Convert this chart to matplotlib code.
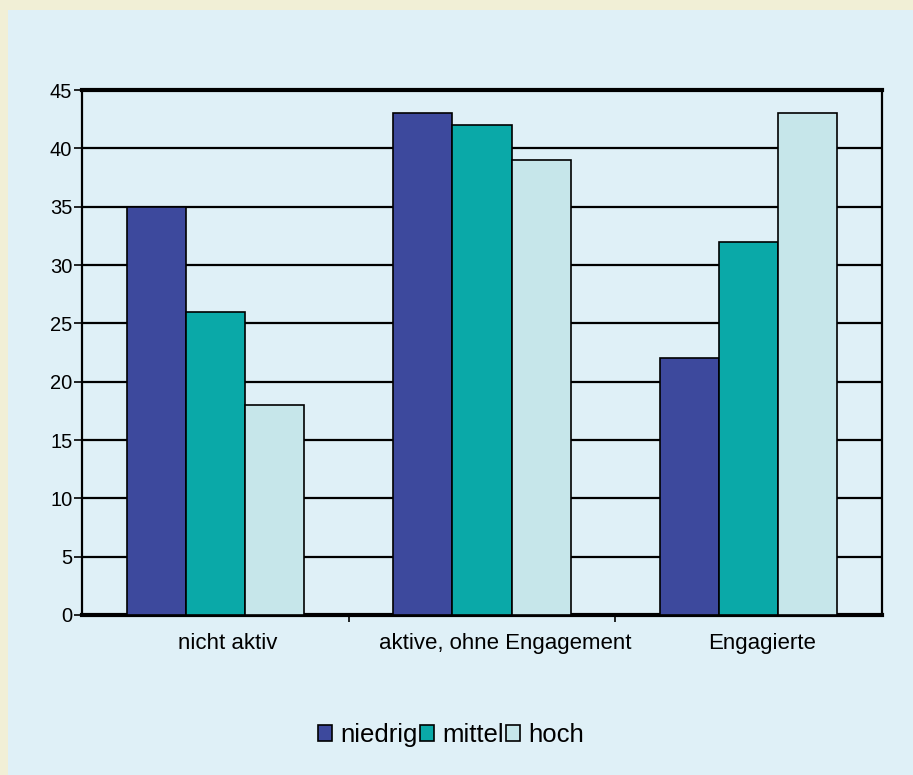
import numpy as np
import matplotlib.pyplot as plt
from matplotlib.patches import Rectangle
from matplotlib.transforms import ScaledTranslation

# DATEN
categories = ["nicht aktiv", "aktive, ohne Engagement", "Engagierte"]
series = ["niedrig", "mittel", "hoch"]
niedrig = [35, 43, 22]
mittel = [26, 42, 32]
hoch = [18, 39, 43]
yticks = [0, 5, 10, 15, 20, 25, 30, 35, 40, 45]

colors = ["#3d499d", "#0aa9a8", "#c6e6ea"]
panel = "#dff0f7"
outer = "#f1efd6"

plt.rcParams['font.family'] = ['Liberation Sans', 'DejaVu Sans']

fig = plt.figure(figsize=(9.13, 7.75), dpi=100)
fig.patch.set_facecolor(outer)
fig.patches.append(Rectangle((8 / 913, 0), 1, 1 - 10 / 775, transform=fig.transFigure,
                             facecolor=panel, edgecolor="none", zorder=-10))

ax = fig.add_axes([82 / 913, 160 / 775, 800 / 913, 525 / 775])
ax.set_facecolor(panel)

x = np.arange(len(categories))
w = 0.222
for i, (vals, name) in enumerate(zip([niedrig, mittel, hoch], series)):
    ax.bar(x + (i - 1) * w, vals, w, color=colors[i], edgecolor="black",
           linewidth=1.2, label=name, zorder=3)

ax.set_xlim(-0.5, len(categories) - 0.5)
ax.set_ylim(0, 45)
ax.set_yticks(yticks)
ax.tick_params(axis="y", labelsize=14.5, length=6, width=1.2, direction="out", pad=1)

# Gitterlinien
for y in yticks[1:-1]:
    ax.axhline(y, color="black", lw=1.6, zorder=1)

# Kategorien: Striche an den Grenzen, Beschriftung in der Mitte
ax.set_xticks(x[:-1] + 0.5)
ax.set_xticklabels([])
ax.tick_params(axis="x", which="major", length=5, width=1.2)
ax.set_xticks(x, minor=True)
ax.set_xticklabels(categories, minor=True, fontsize=16)
ax.tick_params(axis="x", which="minor", length=0, pad=13)
shift = [0.12, 0.23, 0.13]
for lab, s in zip(ax.get_xticklabels(minor=True), shift):
    lab.set_transform(lab.get_transform() + ScaledTranslation(s, 0, fig.dpi_scale_trans))

for side in ["left", "right"]:
    ax.spines[side].set_linewidth(1.6)
ax.spines["top"].set_linewidth(3)
ax.spines["bottom"].set_linewidth(3)

leg = fig.legend(loc="center", bbox_to_anchor=(451 / 913, 40 / 775), ncol=3,
                 frameon=False, fontsize=18.5, handlelength=0.55, handleheight=0.55,
                 handletextpad=0.3, columnspacing=0.1)

fig.savefig("out.png", dpi=100, facecolor=fig.get_facecolor())
